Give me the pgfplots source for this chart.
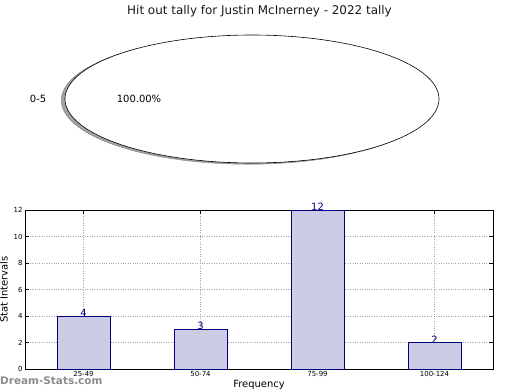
\documentclass[border=0pt]{standalone}
\usepackage{pgfplots}
\pgfplotsset{compat=1.18}
\usepackage{fontspec}
\setmainfont{DejaVu Sans}
\definecolor{barfill}{RGB}{204,204,228}
\definecolor{baredge}{RGB}{0,0,128}
\begin{document}
\begin{tikzpicture}[x=1bp,y=1bp]
\useasboundingbox (0,0) rectangle (520,390);
\node[font=\fontsize{12}{14}\selectfont, text=black!90] at (259.5,379) {Hit out tally for Justin McInerney - 2022 tally};
\begin{axis}[at={(252bp,291bp)}, anchor=center, scale only axis,
  width=374bp, height=128bp, xmin=-1, xmax=1, ymin=-1, ymax=1,
  hide axis, clip=false]
\addplot[draw=black!55, fill=black!45, opacity=0.8, domain=0:360, samples=181] ({cos(x)-0.02},{sin(x)-0.02});
\addplot[draw=black, line width=0.6bp, fill=white, domain=0:360, samples=181] ({cos(x)},{sin(x)});
\node[font=\fontsize{10}{12}\selectfont] at (axis cs:-1.144,0) {0-5};
\node[font=\fontsize{10}{12}\selectfont] at (axis cs:-0.604,0) {100.00\%};
\end{axis}
\begin{axis}[at={(25bp,21bp)}, anchor=south west, scale only axis,
  width=468bp, height=159bp,
  /pgf/number format/assume math mode=true,
  xmin=-0.5, xmax=3.5, ymin=0, ymax=12,
  xtick={0,1,2,3}, xticklabels={25-49,50-74,75-99,100-124},
  ytick={0,2,...,12},
  grid=major, grid style={dotted, black!35, line width=0.8bp},
  tick align=inside, major tick length=4bp,
  tick style={black, line width=0.5bp},
  axis line style={line width=0.8bp},
  ticklabel style={font=\fontsize{7}{8}\selectfont},
  xticklabel style={yshift=1bp},
  yticklabel style={xshift=1bp},
  xlabel={Frequency}, ylabel={Stat Intervals},
  xlabel style={font=\fontsize{10}{12}\selectfont, at={(axis description cs:0.5,0)}, anchor=south, yshift=-21bp, inner sep=0.5bp},
  ylabel style={font=\fontsize{10}{12}\selectfont, at={(axis description cs:-0.045,0.5)}, anchor=center},
  clip=false]
\addplot[ybar, bar width=53bp, fill=barfill, draw=baredge, line width=0.6bp,
  nodes near coords, nodes near coords style={font=\fontsize{10}{12}\selectfont, text=baredge, anchor=south, inner sep=0.5bp, yshift=-1.5bp}]
  coordinates {(0,4) (1,3) (2,12) (3,2)};
\end{axis}
\node[anchor=west, font=\bfseries\fontsize{10.5}{12}\selectfont, text=black!45, inner sep=0] at (0,9) {Dream-Stats.com};
\end{tikzpicture}
\end{document}
